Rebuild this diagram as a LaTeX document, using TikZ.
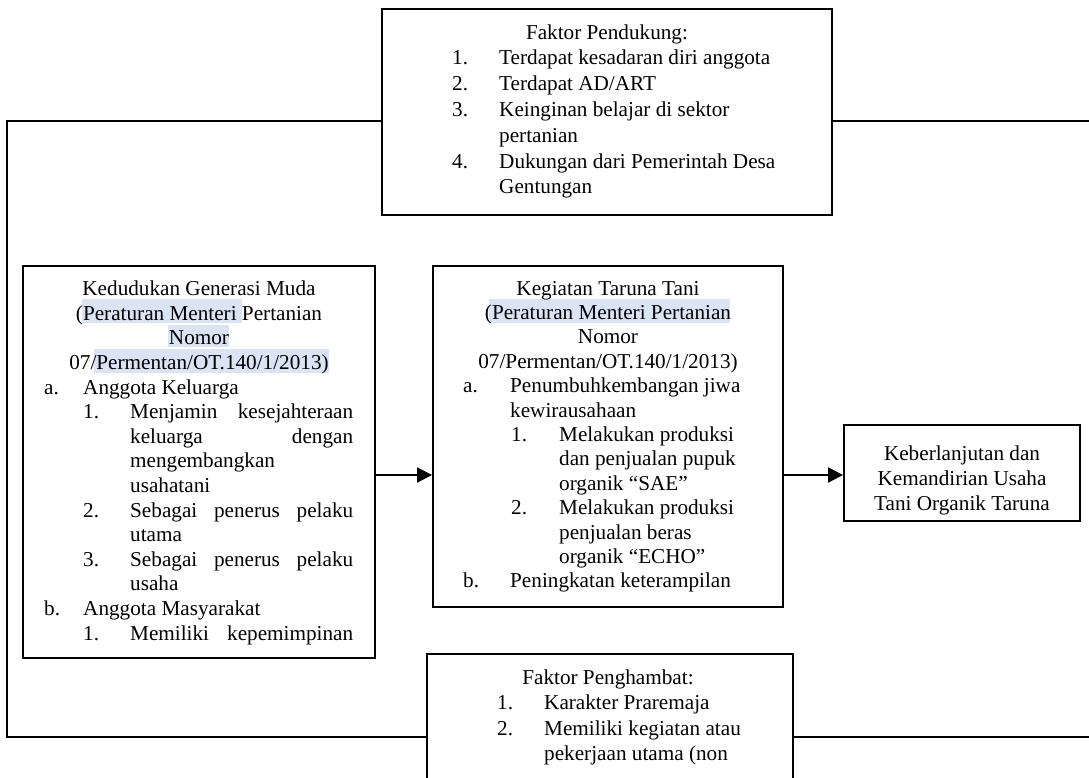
\documentclass[tikz,border=0pt]{standalone}
\usepackage{fontspec}
\setmainfont{Liberation Serif}
\usetikzlibrary{arrows.meta}
\definecolor{hl}{RGB}{218,228,245}
\tikzset{
  box/.style={draw, line width=1.9pt, inner sep=0pt, fill=none},
  conn/.style={line width=2pt},
  arr/.style={line width=2pt, -{Triangle[length=15pt,width=15pt]}},
  tl/.style={inner sep=0pt, anchor=base west},
  tc/.style={inner sep=0pt, anchor=base},
}
\newcommand{\jline}[1]{\makebox[223pt][s]{#1}}
\begin{document}
\begin{tikzpicture}[x=1pt, y=-1pt, font=\fontsize{21.2}{24.6}\selectfont]
\useasboundingbox (0,0) rectangle (1089,777);
\clip (0,0) rectangle (1089,777);
% highlights
\fill[hl] (82,299) rectangle (242,323);
\fill[hl] (168,325) rectangle (229,347);
\fill[hl] (94,349) rectangle (329,373);
\fill[hl] (489,299) rectangle (730,323);

% boxes
\node[box, minimum width=450pt, minimum height=206pt] (top) at (607,112) {};
\node[box, minimum width=352pt, minimum height=392pt] (left) at (199,462) {};
\node[box, minimum width=350pt, minimum height=341pt] (mid) at (608,436.5) {};
\node[box, minimum width=236pt, minimum height=96pt] (right) at (962,473) {};
\node[box, minimum width=366pt, minimum height=146pt] (bot) at (610,727) {};

% connector coordinates
\coordinate (ctl) at (7,121);
\coordinate (cbl) at (7,737);
\coordinate (ctr) at (1089,121);
\coordinate (cbr) at (1089,737);
\coordinate (ya) at (0,475);

\draw[conn] (top.west |- ctl) -- (ctl) -- (cbl) -- (bot.west |- cbl);
\draw[conn] (top.east |- ctr) -- (ctr);
\draw[conn] (bot.east |- cbr) -- (cbr);
\draw[arr] (left.east |- ya) -- (mid.west |- ya);
\draw[arr] (mid.east |- ya) -- (right.west |- ya);

% top box text
\node[tc] (p0) at (607,39) {Faktor Pendukung:};
\node[tl] (p1n) at (452,64) {1.};
\node[tl] (p1) at (499,64) {Terdapat kesadaran diri anggota};
\node[tl] (p2n) at (452,90) {2.};
\node[tl] (p2) at (499,90) {Terdapat AD/ART};
\node[tl] (p3n) at (452,116) {3.};
\node[tl] (p3) at (499,116) {Keinginan belajar di sektor};
\node[tl] (p3b) at (499,142) {pertanian};
\node[tl] (p4n) at (452,168) {4.};
\node[tl] (p4) at (499,168) {Dukungan dari Pemerintah Desa};
\node[tl] (p4b) at (499,193) {Gentungan};

% left box text
\node[tc] (l0) at (199,295.6) {Kedudukan Generasi Muda};
\node[tc] (l1) at (199,320.2) {(Peraturan Menteri Pertanian};
\node[tc] (l2) at (199,344.8) {Nomor};
\node[tc] (l3) at (199,369.4) {07/Permentan/OT.140/1/2013)};
\node[tl] (lan) at (44,394) {a.};
\node[tl] (la) at (83,394) {Anggota Keluarga};
\node[tl] (la1n) at (83,418.6) {1.};
\node[tl] (la1) at (130,418.6) {\jline{Menjamin\hfill kesejahteraan}};
\node[tl] (la1b) at (130,443.2) {\jline{keluarga\hfill dengan}};
\node[tl] (la1c) at (130,467.8) {mengembangkan};
\node[tl] (la1d) at (130,492.4) {usahatani};
\node[tl] (la2n) at (83,517) {2.};
\node[tl] (la2) at (130,517) {\jline{Sebagai\hfill penerus\hfill pelaku}};
\node[tl] (la2b) at (130,541.6) {utama};
\node[tl] (la3n) at (83,566.2) {3.};
\node[tl] (la3) at (130,566.2) {\jline{Sebagai\hfill penerus\hfill pelaku}};
\node[tl] (la3b) at (130,590.8) {usaha};
\node[tl] (lbn) at (44,615.4) {b.};
\node[tl] (lb) at (83,615.4) {Anggota Masyarakat};
\node[tl] (lb1n) at (83,640) {1.};
\node[tl] (lb1) at (130,640) {\jline{Memiliki\hfill kepemimpinan}};

% middle box text
\node[tc] (m0) at (608,295) {Kegiatan Taruna Tani};
\node[tc] (m1) at (608,319.4) {(Peraturan Menteri Pertanian};
\node[tc] (m2) at (608,343.8) {Nomor};
\node[tc] (m3) at (608,368.2) {07/Permentan/OT.140/1/2013)};
\node[tl] (man) at (463,392.6) {a.};
\node[tl] (ma) at (510,392.6) {Penumbuhkembangan jiwa};
\node[tl] (mab) at (510,417) {kewirausahaan};
\node[tl] (ma1n) at (511,441.4) {1.};
\node[tl] (ma1) at (559,441.4) {Melakukan produksi};
\node[tl] (ma1b) at (559,465.8) {dan penjualan pupuk};
\node[tl] (ma1c) at (559,490.2) {organik “SAE”};
\node[tl] (ma2n) at (511,514.6) {2.};
\node[tl] (ma2) at (559,514.6) {Melakukan produksi};
\node[tl] (ma2b) at (559,539) {penjualan beras};
\node[tl] (ma2c) at (559,563.4) {organik “ECHO”};
\node[tl] (mbn) at (463,587.8) {b.};
\node[tl] (mb) at (510,587.8) {Peningkatan keterampilan};

% right box text
\node[tc] (r1) at (962,460) {Keberlanjutan dan};
\node[tc] (r2) at (962,485) {Kemandirian Usaha};
\node[tc] (r3) at (962,510) {Tani Organik Taruna};

% bottom box text
\node[tc] (b0) at (608,684) {Faktor Penghambat:};
\node[tl] (b1n) at (497,709) {1.};
\node[tl] (b1) at (544,709) {Karakter Praremaja};
\node[tl] (b2n) at (497,735) {2.};
\node[tl] (b2) at (544,735) {Memiliki kegiatan atau};
\node[tl] (b2b) at (544,760) {pekerjaan utama (non};
\end{tikzpicture}
\end{document}
